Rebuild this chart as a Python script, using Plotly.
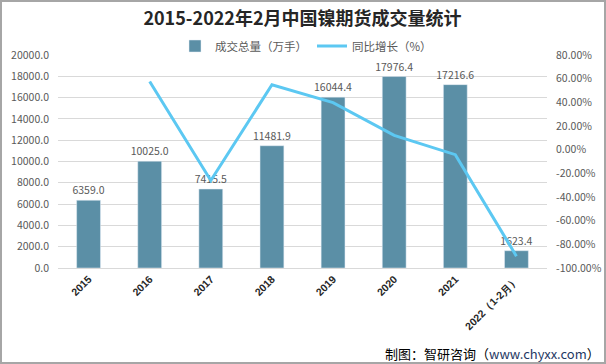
import plotly.graph_objects as go

categories = ["2015", "2016", "2017", "2018", "2019", "2020", "2021", "2022（1-2月）"]
volume = [6359.0, 10025.0, 7415.5, 11481.9, 16044.4, 17976.4, 17216.6, 1623.4]
growth = [None, 57.65, -26.03, 54.84, 39.74, 12.04, -4.23, -90.0]
left_ticks = [0, 2000, 4000, 6000, 8000, 10000, 12000, 14000, 16000, 18000, 20000]
right_ticks = [-100, -80, -60, -40, -20, 0, 20, 40, 60, 80]

font_family = "Microsoft YaHei, Noto Sans CJK SC, sans-serif"
W, H = 606, 364
L, R, T, B = 58, 59, 55, 96
pw, ph = W - L - R, H - T - B

fig = go.Figure()
fig.add_trace(go.Bar(
    x=categories, y=volume, name="成交总量（万手）",
    marker_color="#5B8FA6", width=0.39,
    text=[f"{v:.1f}" for v in volume], textposition="outside", constraintext="none",
    textfont=dict(size=10.5, color="#595959"), cliponaxis=False,
))
fig.add_trace(go.Scatter(
    x=categories, y=growth, name="同比增长（%）", yaxis="y2",
    mode="lines", line=dict(color="#5CC8F2", width=3), connectgaps=False,
))

fig.update_layout(
    width=W, height=H,
    margin=dict(l=L, r=R, t=T, b=B, autoexpand=False),
    paper_bgcolor="white", plot_bgcolor="white",
    font=dict(family=font_family, color="#595959"),
    title=dict(text="<b>2015-2022年2月中国镍期货成交量统计</b>", x=(L + pw / 2) / W, xanchor="center",
               y=1 - 19 / H, yanchor="middle", font=dict(size=18, color="#262626")),
    showlegend=True,
    legend=dict(orientation="h", x=(306 - L) / pw, xanchor="center", y=1 + 9 / ph, yanchor="middle",
                font=dict(size=11.5, color="#595959"), bgcolor="rgba(0,0,0,0)"),
    xaxis=dict(tickangle=-45, automargin=False,
               tickfont=dict(size=10.5, color="#262626", family="Arial, Liberation Sans, sans-serif", weight="bold"),
               showline=True, linecolor="#D9D9D9", ticks=""),
    yaxis=dict(range=[0, 20000], tickvals=left_ticks, ticktext=[f"{v:.1f}" for v in left_ticks],
               gridcolor="#D9D9D9", tickfont=dict(size=10.5, color="#595959"), zeroline=False,
               automargin=False, ticklabelstandoff=8),
    yaxis2=dict(range=[-100, 80], tickvals=right_ticks, ticktext=[f"{v:.2f}%" for v in right_ticks],
                overlaying="y", side="right", showgrid=False, zeroline=False, automargin=False,
                ticklabelstandoff=8, tickfont=dict(size=10.5, color="#595959")),
)
fig.add_annotation(text="制图：智研咨询（<span style='color:#1F3864'>www.chyxx.com</span>）",
                   xref="paper", yref="paper", x=(602 - L) / pw, y=-(353 - T - ph) / ph,
                   xanchor="right", yanchor="middle",
                   showarrow=False, font=dict(size=13, color="#000000"))
fig.add_shape(type="rect", xref="paper", yref="paper", x0=-(L - 1) / pw, x1=(W - 1 - L) / pw,
              y0=-(B - 1) / ph, y1=1 + (T - 1) / ph, line=dict(color="#A6A6A6", width=2))
fig.write_html("out.html", config={"displayModeBar": False},
               post_script="document.body.style.margin='0';document.body.style.overflow='hidden';")
